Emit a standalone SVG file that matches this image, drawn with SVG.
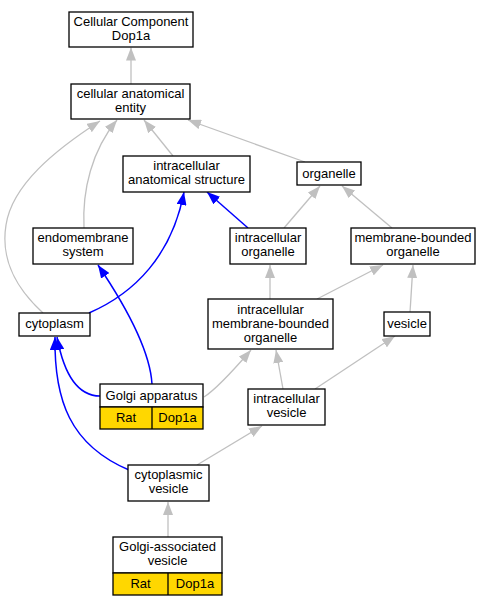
<svg xmlns="http://www.w3.org/2000/svg" width="490" height="605" viewBox="0 0 490 605">
<style>
.n rect{fill:#fff;stroke:#000;stroke-width:1.3}
.n rect.y{fill:#ffd700}
.n line{stroke:#000;stroke-width:1.3}
text{font-family:"Liberation Sans",Arial,sans-serif;font-size:13px;fill:#000;text-anchor:middle}
.g{fill:none;stroke:#c0c0c0;stroke-width:1.3;marker-end:url(#ag)}
.b{fill:none;stroke:#0000ff;stroke-width:1.5;marker-end:url(#ab)}
</style>
<defs>
<marker id="ag" viewBox="0 0 13 10" refX="13" refY="5" markerWidth="13" markerHeight="10" markerUnits="userSpaceOnUse" orient="auto"><path d="M0,0L13,5L0,10z" fill="#c0c0c0"/></marker>
<marker id="ab" viewBox="0 0 13 10" refX="13" refY="5" markerWidth="13" markerHeight="10" markerUnits="userSpaceOnUse" orient="auto"><path d="M0,0L13,5L0,10z" fill="#0000ff"/></marker>
</defs>
<rect width="490" height="605" fill="#fff"/>
<g id="edges">
<path class="g" d="M131,84L131,47.5"/>
<path class="g" d="M173,156L144,120"/>
<path class="g" d="M305,162L188,120"/>
<path class="g" d="M84,228C82,190 92,150 117,120"/>
<path class="g" d="M43,313C18,290 0,262 6,225C12,185 55,150 100,121"/>
<path class="g" d="M284,228L320,186"/>
<path class="g" d="M392,228L342,186"/>
<path class="g" d="M270,299L270,265"/>
<path class="g" d="M317,299L383,265"/>
<path class="g" d="M410,312L413,265"/>
<path class="g" d="M204,397C215,390 232,372 251,350"/>
<path class="g" d="M283,389L276,350"/>
<path class="g" d="M315,389L395,336"/>
<path class="g" d="M197,465L262,426"/>
<path class="g" d="M168,537L168,502"/>
<path class="b" d="M152,384C150,350 125,305 98,265"/>
<path class="b" d="M89,313C135,293 172,255 184,192"/>
<path class="b" d="M248,228L207,192"/>
<path class="b" d="M100,396C80,396 65,380 57,337"/>
<path class="b" d="M129,470C70,445 54,400 55,337"/>
</g>
<g id="n1" class="n"><rect x="69" y="12" width="124" height="35"/><text x="131" y="26">Cellular Component</text><text x="131" y="40">Dop1a</text></g>
<g id="n2" class="n"><rect x="71" y="84" width="119" height="35"/><text x="130.5" y="97.5">cellular anatomical</text><text x="130.5" y="111.5">entity</text></g>
<g id="n3" class="n"><rect x="123" y="156" width="127" height="36"/><text x="186.5" y="170">intracellular</text><text x="186.5" y="184">anatomical structure</text></g>
<g id="n4" class="n"><rect x="297" y="162" width="64" height="23"/><text x="329" y="177.5">organelle</text></g>
<g id="n5" class="n"><rect x="33" y="228" width="100" height="36"/><text x="83" y="242">endomembrane</text><text x="83" y="256">system</text></g>
<g id="n6" class="n"><rect x="230" y="228" width="76" height="36"/><text x="268" y="242">intracellular</text><text x="268" y="256">organelle</text></g>
<g id="n7" class="n"><rect x="351" y="228" width="124" height="36"/><text x="413" y="242">membrane-bounded</text><text x="413" y="256">organelle</text></g>
<g id="n8" class="n"><rect x="19" y="313" width="71" height="23"/><text x="54.5" y="328">cytoplasm</text></g>
<g id="n9" class="n"><rect x="208" y="299" width="125" height="50"/><text x="270.5" y="314">intracellular</text><text x="270.5" y="328">membrane-bounded</text><text x="270.5" y="342">organelle</text></g>
<g id="n10" class="n"><rect x="384" y="312" width="46" height="24"/><text x="407" y="328">vesicle</text></g>
<g id="n11" class="n"><rect x="100" y="384" width="103" height="23"/><rect class="y" x="100" y="407" width="103" height="22"/><line x1="152" y1="407" x2="152" y2="429"/><text x="151.5" y="400">Golgi apparatus</text><text x="126" y="421.5">Rat</text><text x="177.5" y="421.5">Dop1a</text></g>
<g id="n12" class="n"><rect x="248" y="389" width="77" height="36"/><text x="286.5" y="403">intracellular</text><text x="286.5" y="417">vesicle</text></g>
<g id="n13" class="n"><rect x="128" y="465" width="81" height="36"/><text x="168.5" y="478.5">cytoplasmic</text><text x="168.5" y="492.5">vesicle</text></g>
<g id="n14" class="n"><rect x="113" y="537" width="109" height="36"/><rect class="y" x="113" y="573" width="109" height="22"/><line x1="168" y1="573" x2="168" y2="595"/><text x="167.5" y="551">Golgi-associated</text><text x="167.5" y="565">vesicle</text><text x="140.5" y="588">Rat</text><text x="195" y="588">Dop1a</text></g>
</svg>
